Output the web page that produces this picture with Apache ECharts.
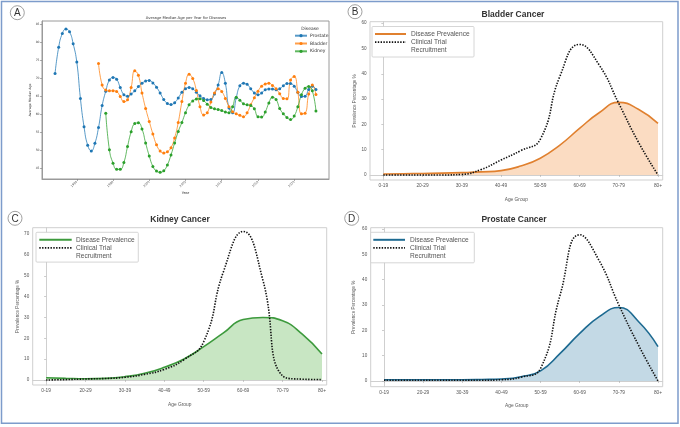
<!DOCTYPE html>
<html><head><meta charset="utf-8">
<script src="https://cdn.jsdelivr.net/npm/echarts@6/dist/echarts.min.js"></script>
<style>html,body{margin:0;padding:0;background:#fff}#c{width:680px;height:427px}</style>
</head><body><div id="c"></div>
<script>
// ---------- Panel A data: [year, average median age] ----------
const prostateA = [[1987,71.2],[1987.5,78.5],[1988,82.3],[1988.5,83.6],[1989,82.8],[1989.5,79.5],[1990,74.4],[1990.5,64.3],[1991,56.4],[1991.5,51.3],[1992,49.7],[1992.5,51.8],[1993,56.2],[1993.5,62.3],[1994,66.3],[1994.5,69.4],[1995,70.1],[1995.5,69.6],[1996,67.3],[1996.5,65.3],[1997,64.9],[1997.5,65.5],[1998,66.4],[1998.5,67.6],[1999,68.5],[1999.5,69.1],[2000,69.3],[2000.5,68.6],[2001,67.4],[2001.5,65.8],[2002,64.0],[2002.5,62.9],[2003,62.6],[2003.5,63.1],[2004,64.4],[2004.5,66.0],[2005,67.0],[2005.5,67.3],[2006,67.0],[2006.5,66.0],[2007,65.0],[2007.5,64.3],[2008,63.9],[2008.5,64.0],[2009,65.5],[2009.5,68.0],[2010,71.5],[2010.5,68.5],[2011,61.6],[2011.5,60.3],[2012,64.5],[2012.5,67.8],[2013,68.5],[2013.5,68.2],[2014,67.0],[2014.5,65.8],[2015,65.3],[2015.5,65.8],[2016,66.7],[2016.5,66.9],[2017,66.9],[2017.5,66.7],[2018,67.0],[2018.5,67.8],[2019,68.4],[2019.5,68.4],[2020,67.7],[2020.5,66.0],[2021,64.8],[2021.5,64.9],[2022,66.8],[2022.5,67.7],[2023,66.8]];
const bladderA = [[1993,74.0],[1993.5,68.0],[1994,66.6],[1994.5,66.4],[1995,66.4],[1995.5,66.2],[1996,64.8],[1996.5,63.4],[1997,63.9],[1997.5,67.3],[1998,72.0],[1998.5,70.7],[1999,65.8],[1999.5,61.5],[2000,57.9],[2000.5,54.4],[2001,51.4],[2001.5,49.7],[2002,49.1],[2002.5,49.5],[2003,50.6],[2003.5,53.3],[2004,57.6],[2004.5,63.4],[2005,68.5],[2005.5,71.0],[2006,69.8],[2006.5,66.5],[2007,62.0],[2007.5,59.7],[2008,60.3],[2008.5,63.3],[2009,65.8],[2009.5,67.0],[2010,66.2],[2010.5,64.3],[2011,62.0],[2011.5,60.6],[2012,60.0],[2012.5,59.6],[2013,59.2],[2013.5,60.3],[2014,62.5],[2014.5,64.5],[2015,66.3],[2015.5,67.7],[2016,68.3],[2016.5,68.5],[2017,67.9],[2017.5,67.0],[2018,65.6],[2018.5,64.3],[2019,64.2],[2019.5,69.4],[2020,70.4],[2020.5,66.0],[2021,60.0],[2021.5,60.2],[2022,65.5],[2022.5,68.0],[2023,65.4]];
const kidneyA = [[1994,60.2],[1994.5,50.0],[1995,46.3],[1995.5,44.6],[1996,44.6],[1996.5,46.5],[1997,50.9],[1997.5,55.0],[1998,57.3],[1998.5,57.5],[1999,55.8],[1999.5,51.9],[2000,48.3],[2000.5,45.4],[2001,44.1],[2001.5,43.8],[2002,44.2],[2002.5,45.8],[2003,48.6],[2003.5,51.9],[2004,55.1],[2004.5,57.6],[2005,60.3],[2005.5,62.5],[2006,63.6],[2006.5,64.1],[2007,64.2],[2007.5,63.7],[2008,62.7],[2008.5,61.8],[2009,61.4],[2009.5,61.2],[2010,60.9],[2010.5,60.5],[2011,60.3],[2011.5,62.0],[2012,64.6],[2012.5,63.8],[2013,62.8],[2013.5,62.5],[2014,62.3],[2014.5,61.4],[2015,59.2],[2015.5,59.1],[2016,60.5],[2016.5,63.0],[2017,64.6],[2017.5,64.0],[2018,61.5],[2018.5,60.0],[2019,59.0],[2019.5,58.4],[2020,59.4],[2020.5,62.0],[2021,65.3],[2021.5,67.1],[2022,67.6],[2022.5,66.4],[2023,60.8]];
const yearTicks = [1990,1995,2000,2005,2010,2015,2020];
const ageTicksA = [45,50,55,60,65,70,75,80,85];

// ---------- Panels B-D data: prevalence % by age group ----------
const ageGroups = ['0-19','20-29','30-39','40-49','50-59','60-69','70-79','80+'];
const ageTickPos = [0,1,2,3,4,5,6,7];
const ageSteps = [0,0.5,1,1.5,2,2.5,3,3.5,4,4.5,5,5.5,6,6.5,7];
const bladderPrev  = [0.4,0.5,0.6,0.7,0.9,1.2,1.7,3.5,6.6,11.8,18.4,24.6,28.7,26.0,20.4];
const bladderTrial = [0,0,0,0,0.2,2.2,5.9,9.6,14.1,39,51.6,43.5,28.3,13,0];
const kidneyPrev   = [1.1,0.8,0.6,0.8,1.6,3.2,6.1,10.1,16.0,22.6,29.0,30.0,28.4,22.0,12.5];
const kidneyTrial  = [0,0.2,0.5,0.7,1.3,2.7,5.1,9.8,18.4,52,71.3,48,2.0,0.4,0.2];
const prostatePrev = [0.5,0.5,0.5,0.5,0.5,0.6,0.8,1.7,4.0,10.9,18.8,25.4,29.0,23.5,13.6];
const prostateTrial= [0.3,0.3,0.3,0.3,0.3,0.3,0.5,1.5,5.0,34,57.7,47.4,30.0,14.2,0];
const pctTicks60 = [0,10,20,30,40,50,60];
const pctTicks70 = [0,10,20,30,40,50,60,70];

const zip = (xs, ys) => xs.map((x, i) => [x, ys[i]]);

const SANS = 'Liberation Sans, Arial, sans-serif';
const DJ = 'DejaVu Sans, sans-serif';

function yearAxis() {
  return {
    type: 'value', gridIndex: 0, min: 1985.2, max: 2024.8,
    name: 'Year', nameLocation: 'middle', nameGap: 11,
    nameTextStyle: { fontSize: 3.6, fontFamily: DJ, color: '#333' },
    axisLine: { show: true, lineStyle: { color: '#9a9a9a', width: 1 } },
    axisTick: { show: true, customValues: yearTicks, length: 2, lineStyle: { color: '#777', width: 0.6 } },
    axisLabel: { customValues: yearTicks, formatter: v => String(v), rotate: 45, fontSize: 3, fontFamily: DJ, color: '#444', margin: 2.5 },
    splitLine: { show: false }
  };
}
function ageAxisA() {
  return {
    type: 'value', gridIndex: 0, min: 41.9, max: 85.8,
    name: 'Average Median Age', nameLocation: 'middle', nameGap: 8.5,
    nameTextStyle: { fontSize: 3.2, fontFamily: DJ, color: '#333' },
    axisLine: { show: true, lineStyle: { color: '#9a9a9a', width: 1 } },
    axisTick: { show: true, customValues: ageTicksA, length: 2, lineStyle: { color: '#777', width: 0.6 } },
    axisLabel: { customValues: ageTicksA, fontSize: 3, fontFamily: DJ, color: '#444', margin: 2.5 },
    splitLine: { show: false }
  };
}
function groupAxis(gi, gap) {
  return {
    type: 'value', gridIndex: gi, min: -0.34, max: 7.12,
    name: 'Age Group', nameLocation: 'middle', nameGap: gap,
    nameTextStyle: { fontSize: 4.8, fontFamily: SANS, color: '#555' },
    axisLine: { show: true, lineStyle: { color: '#cfcfcf', width: 1 } },
    axisTick: { show: true, customValues: ageTickPos, length: 2, lineStyle: { color: '#aaa', width: 0.6 } },
    axisLabel: { customValues: ageTickPos, formatter: v => ageGroups[Math.round(v)], fontSize: 4.8, fontFamily: SANS, color: '#555', margin: 3 },
    splitLine: { show: false }
  };
}
function pctAxis(gi, min, max, ticks, gap) {
  return {
    type: 'value', gridIndex: gi, min: min, max: max,
    name: 'Prevalence Percentage %', nameLocation: 'middle', nameGap: gap,
    nameTextStyle: { fontSize: 4.6, fontFamily: SANS, color: '#555' },
    axisLine: { show: true, lineStyle: { color: '#cfcfcf', width: 1 } },
    axisTick: { show: true, customValues: ticks, length: 2, lineStyle: { color: '#aaa', width: 0.6 } },
    axisLabel: { customValues: ticks, fontSize: 4.6, fontFamily: SANS, color: '#555', margin: 3.5 },
    splitLine: { show: false }
  };
}
function yearSeries(name, data, color) {
  return {
    name: name, type: 'line', xAxisIndex: 0, yAxisIndex: 0, data: data, smooth: true,
    symbol: 'circle', symbolSize: 3, showSymbol: true,
    lineStyle: { color: color, width: 1, opacity: 0.75 },
    itemStyle: { color: color }, emphasis: { disabled: true }, z: 3
  };
}
function prevSeries(gi, vals, line, fill) {
  return {
    name: 'Disease Prevalence', type: 'line', xAxisIndex: gi, yAxisIndex: gi,
    data: zip(ageSteps, vals), smooth: true, showSymbol: false,
    lineStyle: { color: line, width: 1.6 }, itemStyle: { color: line },
    areaStyle: { color: fill, opacity: 1 }, z: 2
  };
}
function trialSeries(gi, vals) {
  return {
    name: 'Clinical Trial Recruitment', type: 'line', xAxisIndex: gi, yAxisIndex: gi,
    data: zip(ageSteps, vals), smooth: true, showSymbol: false,
    lineStyle: { color: '#111', width: 1.6, type: [1.4, 1.4] }, itemStyle: { color: '#111' }, z: 3
  };
}
function legendBox(x, y, w, h, sx0, sx1, tx, color) {
  const r1 = y + 7.5, r2 = y + 15.6, r3 = y + 23.5;
  const ts = { fontSize: 6.6, fontFamily: SANS, fill: '#555', verticalAlign: 'middle', align: 'left' };
  return [
    { type: 'rect', shape: { x: x, y: y, width: w, height: h, r: 1 }, style: { fill: '#fff', stroke: '#cccccc', lineWidth: 0.8 }, z: 10 },
    { type: 'line', shape: { x1: sx0, y1: r1, x2: sx1, y2: r1 }, style: { stroke: color, lineWidth: 2 }, z: 11 },
    { type: 'line', shape: { x1: sx0, y1: r2, x2: sx1, y2: r2 }, style: { stroke: '#111', lineWidth: 1.8, lineDash: [1.4, 1.4] }, z: 11 },
    { type: 'text', x: tx, y: r1, style: Object.assign({ text: 'Disease Prevalence' }, ts), z: 11 },
    { type: 'text', x: tx, y: r2, style: Object.assign({ text: 'Clinical Trial' }, ts), z: 11 },
    { type: 'text', x: tx, y: r3, style: Object.assign({ text: 'Recruitment' }, ts), z: 11 }
  ];
}
function panelLabel(cx, cy, letter) {
  return [
    { type: 'circle', shape: { cx: cx, cy: cy, r: 7 }, style: { fill: '#fff', stroke: '#888', lineWidth: 0.8 }, z: 10 },
    { type: 'text', x: cx, y: cy + 0.5, style: { text: letter, fontSize: 10, fontFamily: SANS, fill: '#333', align: 'center', verticalAlign: 'middle' }, z: 11 }
  ];
}
function titleText(x, y, text) {
  return { type: 'text', x: x, y: y, style: { text: text, fontSize: 8.5, fontWeight: 'bold', fontFamily: SANS, fill: '#333', align: 'center', verticalAlign: 'middle' }, z: 11 };
}

const option = {
  backgroundColor: '#fff',
  animation: false,
  grid: [
    { left: 42, top: 21, width: 287, height: 158, show: true, borderColor: '#9a9a9a', borderWidth: 1 },
    { left: 370, top: 21.7, width: 292.7, height: 158.3, show: true, borderColor: '#cfcfcf', borderWidth: 1 },
    { left: 32.7, top: 227.7, width: 294, height: 157.3, show: true, borderColor: '#cfcfcf', borderWidth: 1 },
    { left: 370.7, top: 227.7, width: 292, height: 159, show: true, borderColor: '#cfcfcf', borderWidth: 1 }
  ],
  xAxis: [ yearAxis(), groupAxis(1, 17), groupAxis(2, 17), groupAxis(3, 16) ],
  yAxis: [ ageAxisA(), pctAxis(1, -2.0, 60.6, pctTicks60, 13), pctAxis(2, -2.4, 73.1, pctTicks70, 11.5), pctAxis(3, -2.25, 60.5, pctTicks60, 14.5) ],
  legend: {
    data: ['Prostate', 'Bladder', 'Kidney'], orient: 'vertical', left: 294, top: 33.2,
    itemWidth: 12, itemHeight: 4, itemGap: 2.8, padding: 0,
    textStyle: { fontSize: 4.5, fontFamily: DJ, color: '#333', padding: [0, 0, 0, -2] }
  },
  series: [
    yearSeries('Prostate', prostateA, '#1f77b4'),
    yearSeries('Bladder', bladderA, '#ff7f0e'),
    yearSeries('Kidney', kidneyA, '#2ca02c'),
    prevSeries(1, bladderPrev, '#e0802f', '#fbdcc2'),
    trialSeries(1, bladderTrial),
    prevSeries(2, kidneyPrev, '#3d9a3d', '#c8e6c3'),
    trialSeries(2, kidneyTrial),
    prevSeries(3, prostatePrev, '#1d6a91', '#c3d9e5'),
    trialSeries(3, prostateTrial)
  ],
  graphic: [].concat(
    [{ type: 'rect', shape: { x: 1.5, y: 1.5, width: 676.5, height: 421.8 }, style: { fill: 'none', stroke: '#7d9ccb', lineWidth: 1.5 }, z: 12 }],
    [{ type: 'text', x: 186, y: 18.5, style: { text: 'Average Median Age per Year for Diseases', fontSize: 3.8, fontFamily: DJ, fill: '#333', align: 'center', verticalAlign: 'middle' }, z: 11 }],
    [{ type: 'text', x: 310, y: 29, style: { text: 'Disease', fontSize: 4.5, fontFamily: DJ, fill: '#333', align: 'center', verticalAlign: 'middle' }, z: 11 }],
    [titleText(513, 15, 'Bladder Cancer'), titleText(180, 220, 'Kidney Cancer'), titleText(514, 220, 'Prostate Cancer')],
    legendBox(372, 26.5, 102, 30.5, 375, 406, 411, '#e0802f'),
    legendBox(36, 232.3, 102.3, 29.8, 39.3, 71.7, 76, '#3d9a3d'),
    legendBox(370.7, 232.3, 103.6, 30.5, 373.3, 405, 410, '#1d6a91'),
    panelLabel(17.3, 12.7, 'A'), panelLabel(355, 11.7, 'B'), panelLabel(15, 218.3, 'C'), panelLabel(351.7, 218.3, 'D')
  )
};
const chart = echarts.init(document.getElementById('c'));
chart.setOption(option);
</script>
</body></html>
